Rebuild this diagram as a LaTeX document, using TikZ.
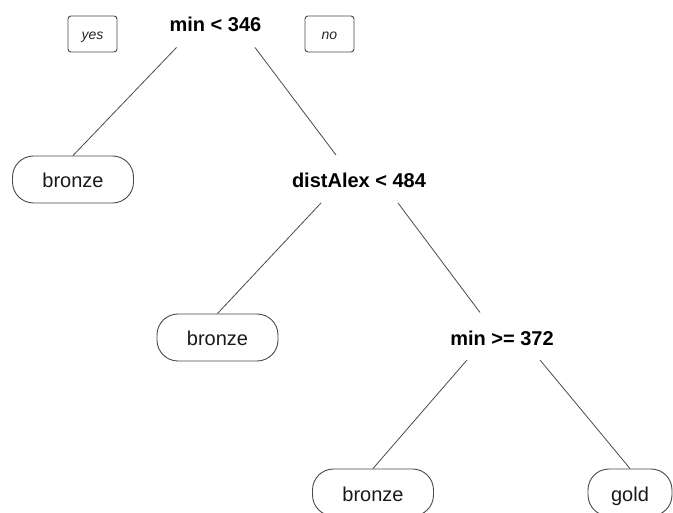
\documentclass[tikz,border=0pt]{standalone}
\usepackage{fontspec}
\setmainfont{Liberation Sans}
\usetikzlibrary{calc}
\definecolor{edgegray}{HTML}{4A4A4A}
\tikzset{
  split/.style={anchor=base, font=\fontsize{20}{24}\selectfont\bfseries, inner sep=0pt, text=black},
  leaf/.style={draw=edgegray, line width=0.9pt, rounded corners=21pt, minimum height=47pt, minimum width=121pt, inner sep=0pt, font=\fontsize{20}{24}\selectfont, text=black!90, text depth=0pt, text height=17pt},
  yesno/.style={draw=edgegray, line width=0.9pt, rounded corners=3pt, minimum height=36pt, minimum width=49pt, inner sep=0pt, font=\fontsize{14}{16}\selectfont\itshape, text=black!85, text depth=0pt, text height=12pt},
  edge/.style={draw=edgegray, line width=0.8pt}
}
\begin{document}
\begin{tikzpicture}[x=1pt,y=-1pt]
\useasboundingbox (0,0) rectangle (673,513);
\begin{scope}
\clip (0,0) rectangle (673,513);
% split nodes
\node[split] (root) at (215.5,32) {min < 346};
\node[split] (dist) at (359,188) {distAlex < 484};
\node[split] (minb) at (502,345.5) {min >= 372};
% yes / no
\node[yesno] (yes) at (92.5,34) {yes};
\node[yesno] (no) at (329.5,34) {no};
% leaves
\node[leaf] (b1) at (73,179.5) {bronze};
\node[leaf] (b2) at (217.5,337.5) {bronze};
\node[leaf] (b3) at (373,492.5) {bronze};
\node[leaf, minimum width=84pt] (gold) at (630,492.5) {gold};
% connectors
\draw[edge] ($(root.base)+(-39,15.5)$) -- (b1.north);
\draw[edge] ($(root.base)+(39.5,15.5)$) -- ($(dist.base)+(-23,-33)$);
\draw[edge] ($(dist.base)+(-38,15)$) -- (b2.north);
\draw[edge] ($(dist.base)+(39,15)$) -- ($(minb.base)+(-22,-33)$);
\draw[edge] ($(minb.base)+(-35,14.5)$) -- (b3.north);
\draw[edge] ($(minb.base)+(38,14.5)$) -- (gold.north);
\end{scope}
\end{tikzpicture}
\end{document}
